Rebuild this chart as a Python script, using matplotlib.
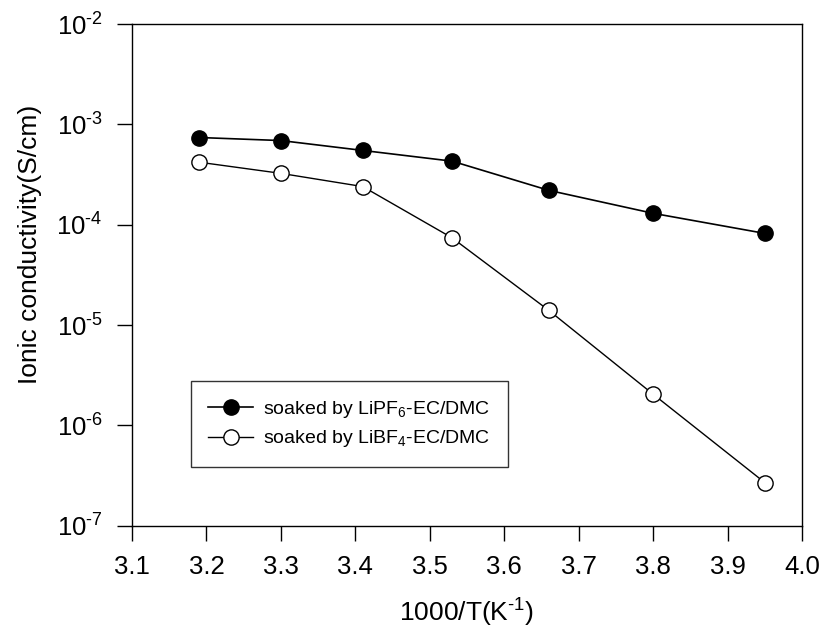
import numpy as np
import matplotlib
matplotlib.use('Agg')
import matplotlib.pyplot as plt
from matplotlib.ticker import FixedLocator, FixedFormatter

plt.rcParams['font.family'] = ['Liberation Sans', 'DejaVu Sans']
plt.rcParams['mathtext.fontset'] = 'custom'
plt.rcParams['mathtext.rm'] = 'Liberation Sans'
plt.rcParams['mathtext.default'] = 'regular'

# 数据
inv_t = [3.19, 3.30, 3.41, 3.53, 3.66, 3.80, 3.95]
sigma_pf6 = [7.4e-4, 6.9e-4, 5.5e-4, 4.3e-4, 2.2e-4, 1.3e-4, 8.2e-5]
sigma_bf4 = [4.2e-4, 3.25e-4, 2.4e-4, 7.4e-5, 1.4e-5, 2.05e-6, 2.7e-7]
labels = ['soaked by LiPF$_6$-EC/DMC', 'soaked by LiBF$_4$-EC/DMC']

xticks = [3.1, 3.2, 3.3, 3.4, 3.5, 3.6, 3.7, 3.8, 3.9, 4.0]
yticks = [1e-7, 1e-6, 1e-5, 1e-4, 1e-3, 1e-2]
ytick_labels = ['10$^{\\text{-}%d}$' % k for k in [7, 6, 5, 4, 3, 2]]

fig = plt.figure(figsize=(8.2, 6.32), dpi=100)
ax = fig.add_axes([0.161, 0.168, 0.817, 0.794])

ax.plot(inv_t, sigma_pf6, '-o', color='black', lw=1.2, ms=11,
        mfc='black', mec='black', label=labels[0])
ax.plot(inv_t, sigma_bf4, '-o', color='black', lw=1.0, ms=11,
        mfc='white', mec='black', mew=1.0, label=labels[1])

ax.set_yscale('log')
ax.set_xlim(3.1, 4.0)
ax.set_ylim(1e-7, 1e-2)

ax.xaxis.set_major_locator(FixedLocator(xticks))
ax.set_xticklabels(['%.1f' % x for x in xticks])
ax.yaxis.set_major_locator(FixedLocator(yticks))
ax.yaxis.set_major_formatter(FixedFormatter(ytick_labels))
ax.yaxis.set_minor_locator(FixedLocator([]))

ax.tick_params(axis='both', which='major', direction='out', length=11,
               width=1.0, labelsize=18.5, top=False, right=False)
ax.tick_params(axis='x', pad=10)
ax.tick_params(axis='y', pad=10)
for s in ax.spines.values():
    s.set_linewidth(1.0)

ax.set_xlabel('1000/T(K$^{\\text{-}1}$)', fontsize=19, labelpad=13)
ax.set_ylabel('Ionic conductivity(S/cm)', fontsize=19)
ax.yaxis.set_label_coords(-0.134, 0.56)

leg = ax.legend(loc='lower left', bbox_to_anchor=(0.088, 0.1175), fontsize=14,
                frameon=True, fancybox=False, edgecolor='black',
                borderaxespad=0, handlelength=2.3, handletextpad=0.5,
                borderpad=0.9, labelspacing=0.45)
leg.get_frame().set_linewidth(1.0)

plt.savefig('out.png', dpi=100)
